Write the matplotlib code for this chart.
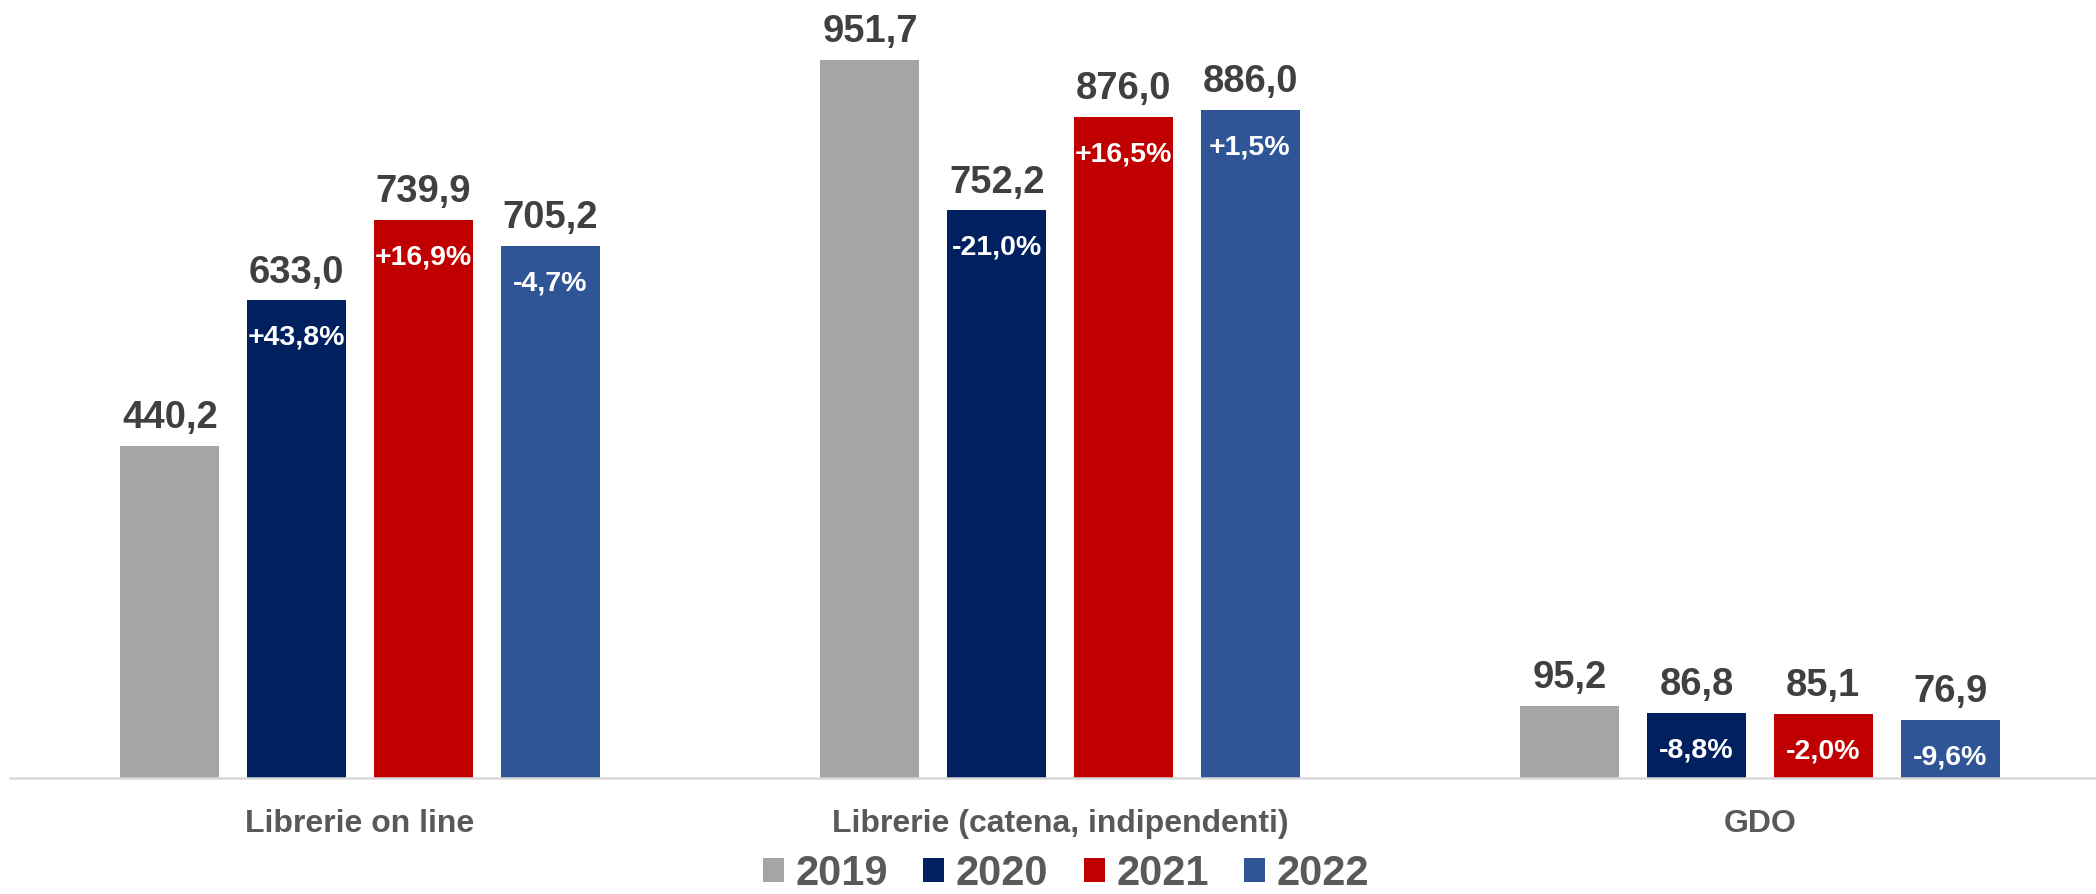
import matplotlib
matplotlib.use("Agg")
import matplotlib.pyplot as plt
import numpy as np

categories = ["Librerie on line", "Librerie (catena, indipendenti)", "GDO"]
years = ["2019", "2020", "2021", "2022"]
values = {
    "2019": [440.2, 951.7, 95.2],
    "2020": [633.0, 752.2, 86.8],
    "2021": [739.9, 876.0, 85.1],
    "2022": [705.2, 886.0, 76.9],
}
changes = {
    "2019": [None, None, None],
    "2020": ["+43,8%", "-21,0%", "-8,8%"],
    "2021": ["+16,9%", "+16,5%", "-2,0%"],
    "2022": ["-4,7%", "+1,5%", "-9,6%"],
}
colors = ["#A5A5A5", "#002060", "#C00000", "#2F5597"]

plt.rcParams["font.family"] = ["Liberation Sans", "DejaVu Sans"]

W, H = 2096, 894
fig = plt.figure(figsize=(W / 100, H / 100), dpi=100)
ax = fig.add_axes([10 / W, (H - 778) / H, 1 - 10 / W, 778 / H])

x = np.arange(len(categories))
step = 0.181
width = 0.1414

for i, yr in enumerate(years):
    pos = x + (i - 1.5) * step
    bars = ax.bar(pos, values[yr], width=width, color=colors[i], label=yr, zorder=2)
    for b, v, c in zip(bars, values[yr], changes[yr]):
        cx = b.get_x() + b.get_width() / 2
        ax.annotate(f"{v:.1f}".replace(".", ","), (cx, v), xytext=(0, 20),
                    textcoords="offset points", ha="center", va="center",
                    fontsize=27.5, fontweight="bold", color="#404040")
        if c:
            ax.annotate(c, (cx, v), xytext=(0, -27), textcoords="offset points",
                        ha="center", va="center", fontsize=20.5,
                        fontweight="bold", color="white")

ax.set_xlim(-0.5, (W - 10) / 700 - 0.5)
ax.set_ylim(0, 778 / 0.7545)
ax.set_xticks(x)
ax.set_xticklabels(categories, fontsize=23, fontweight="bold", color="#595959")
ax.tick_params(axis="x", length=0, pad=22)
ax.set_yticks([])
for s in ["top", "right", "left"]:
    ax.spines[s].set_visible(False)
ax.spines["bottom"].set_color("#D9D9D9")
ax.spines["bottom"].set_linewidth(1.8)

leg = fig.legend(loc="center", bbox_to_anchor=(1066 / W, 1 - 874 / H), ncol=4,
                 frameon=False, handlelength=0.5, handleheight=0.5,
                 handletextpad=0.28, columnspacing=0.85, borderpad=0.1,
                 prop={"weight": "bold", "size": 30})
for t in leg.get_texts():
    t.set_color("#595959")

fig.savefig("out.png", dpi=100)
